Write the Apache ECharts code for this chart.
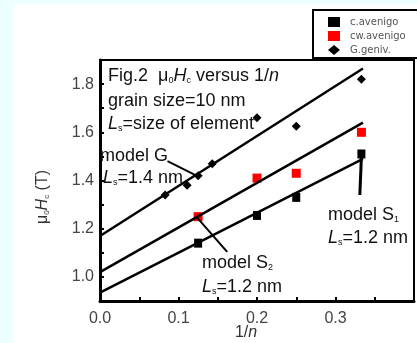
<!DOCTYPE html>
<html>
<head>
<meta charset="utf-8">
<script src="https://cdn.jsdelivr.net/npm/echarts@6/dist/echarts.min.js"></script>
<style>
  html, body { margin: 0; padding: 0; background: #ecffff; }
  #paper { position: absolute; left: 13px; top: 4px; width: 404px; height: 339px; background: #fff; }
  #chart { position: absolute; left: 0; top: 0; width: 417px; height: 343px; }
</style>
</head>
<body>
<div id="paper"></div>
<div id="chart"></div>
<script>
// measured points (x = 1/n, y = mu0Hc in T)
const blackSquares = [[0.125, 1.14], [0.2, 1.255], [0.25, 1.33], [0.333, 1.51]];
const redSquares = [[0.125, 1.25], [0.2, 1.41], [0.25, 1.43], [0.333, 1.60]];
const diamonds = [[0.083, 1.34], [0.111, 1.38], [0.125, 1.42], [0.143, 1.47], [0.2, 1.66], [0.25, 1.625], [0.333, 1.82]];

// model lines (end points)
const modelG = [[0, 1.17], [0.335, 1.865]];
const modelS2 = [[0, 1.02], [0.335, 1.64]];
const modelS1 = [[0, 0.935], [0.335, 1.49]];

// pointer lines from labels to curves
const pointerG = [[0.086, 1.48], [0.126, 1.415]];
const pointerS2 = [[0.124, 1.245], [0.162, 1.104]];
const pointerS1 = [[0.333, 1.50], [0.331, 1.34]];

const legendNames = ["c.avenigo", "cw.avenigo", "G.geniv."];
const xTicks = ["0.0", "0.1", "0.2", "0.3"];
const yTicks = ["1.0", "1.2", "1.4", "1.6", "1.8"];

const FONT = "'Liberation Sans', Arial, sans-serif";
const rich = {
  i: { fontStyle: "italic", fontSize: 18, fontFamily: FONT, fill: "#111" },
  sub: { fontSize: 9, fontFamily: FONT, fill: "#111", verticalAlign: "bottom", padding: [9, 0, 0, 0] }
};

function label(text, x, y) {
  return {
    type: "text",
    x: x, y: y,
    z: 50,
    style: {
      text: text, x: 0, y: 0,
      font: "18px " + FONT,
      fill: "#111",
      verticalAlign: "middle",
      rich: rich
    }
  };
}

function lineSeries(data, width) {
  return {
    type: "line",
    data: data,
    symbol: "none",
    silent: true,
    z: 3,
    lineStyle: { color: "#000", width: width }
  };
}

let myChart = echarts.init(document.getElementById("chart"));
let option = {
  animation: false,
  backgroundColor: "transparent",
  grid: {
    left: 100, top: 60, right: -23, bottom: 42,
    show: true, borderColor: "#000", borderWidth: 2
  },
  legend: {
    orient: "vertical",
    left: 313, top: 10,
    padding: [7, 30, 3, 15],
    itemGap: 4,
    itemWidth: 12, itemHeight: 10,
    backgroundColor: "#fff",
    borderColor: "#000",
    borderWidth: 2,
    data: [
      { name: legendNames[0], icon: "rect" },
      { name: legendNames[1], icon: "rect" },
      { name: legendNames[2], icon: "diamond" }
    ],
    textStyle: { fontFamily: "'DejaVu Sans', sans-serif", fontSize: 10, color: "#555", padding: [0, 0, 0, 5] }
  },
  xAxis: {
    type: "value",
    min: 0, max: 0.4, interval: 0.05,
    axisLine: { lineStyle: { color: "#000", width: 3 } },
    axisTick: { inside: true, length: 4, lineStyle: { color: "#000", width: 2 } },
    splitLine: { show: false },
    axisLabel: {
      color: "#444", fontSize: 16, fontFamily: FONT, margin: 10,
      formatter: v => {
        let k = Math.round(v * 20);
        return k % 2 === 0 && xTicks[k / 2] !== undefined ? xTicks[k / 2] : "";
      }
    }
  },
  yAxis: {
    type: "value",
    min: 0.9, max: 1.9, interval: 0.1,
    axisLine: { lineStyle: { color: "#000", width: 3 } },
    axisTick: { inside: true, length: 4, lineStyle: { color: "#000", width: 2 } },
    splitLine: { show: false },
    axisLabel: {
      color: "#444", fontSize: 16, fontFamily: FONT, margin: 6,
      formatter: v => {
        let k = Math.round(v * 10);
        let i = (k - 10) / 2;
        return k % 2 === 0 && yTicks[i] !== undefined ? yTicks[i] : "";
      }
    }
  },
  graphic: [
    label("Fig.2  μ{sub|0}{i|H}{sub|c} versus 1/{i|n}", 108, 76),
    label("grain size=10 nm", 108, 101),
    label("{i|L}{sub|s}=size of element", 108, 124),
    label("model G", 100, 156),
    label("{i|L}{sub|s}=1.4 nm", 103, 178),
    label("model S{sub|2}", 202, 263),
    label("{i|L}{sub|s}=1.2 nm", 202, 287),
    label("model S{sub|1}", 328, 215),
    label("{i|L}{sub|s}=1.2 nm", 328, 238),
    {
      type: "text", x: 246, y: 333, z: 50,
      style: {
        text: "1/{i|n}", x: 0, y: 0, font: "16px " + FONT, fill: "#333",
        align: "center", verticalAlign: "middle",
        rich: { i: { fontStyle: "italic", fontSize: 16, fontFamily: FONT, fill: "#333" } }
      }
    },
    {
      type: "text", x: 43, y: 197, rotation: Math.PI / 2, z: 50,
      style: {
        text: "μ{sub|0}{i|H}{sub|c} (T)", x: 0, y: 0, font: "16px " + FONT, fill: "#333",
        align: "center", verticalAlign: "middle",
        rich: {
          i: { fontStyle: "italic", fontSize: 16, fontFamily: FONT, fill: "#333" },
          sub: { fontSize: 8, fontFamily: FONT, fill: "#333", verticalAlign: "bottom", padding: [8, 0, 0, 0] }
        }
      }
    }
  ],
  series: [
    lineSeries(modelG, 2.5),
    lineSeries(modelS2, 2.5),
    lineSeries(modelS1, 2.5),
    lineSeries(pointerG, 2),
    lineSeries(pointerS2, 2),
    lineSeries(pointerS1, 3),
    {
      name: legendNames[0], type: "scatter", data: blackSquares,
      symbol: "rect", symbolSize: [8, 9], z: 4,
      itemStyle: { color: "#000", opacity: 1 }
    },
    {
      name: legendNames[1], type: "scatter", data: redSquares,
      symbol: "rect", symbolSize: [9, 9], z: 2,
      itemStyle: { color: "#ff0000", opacity: 1 }
    },
    {
      name: legendNames[2], type: "scatter", data: diamonds,
      symbol: "diamond", symbolSize: 9, z: 4,
      itemStyle: { color: "#000", opacity: 1 }
    }
  ]
};
myChart.setOption(option);
</script>
</body>
</html>
